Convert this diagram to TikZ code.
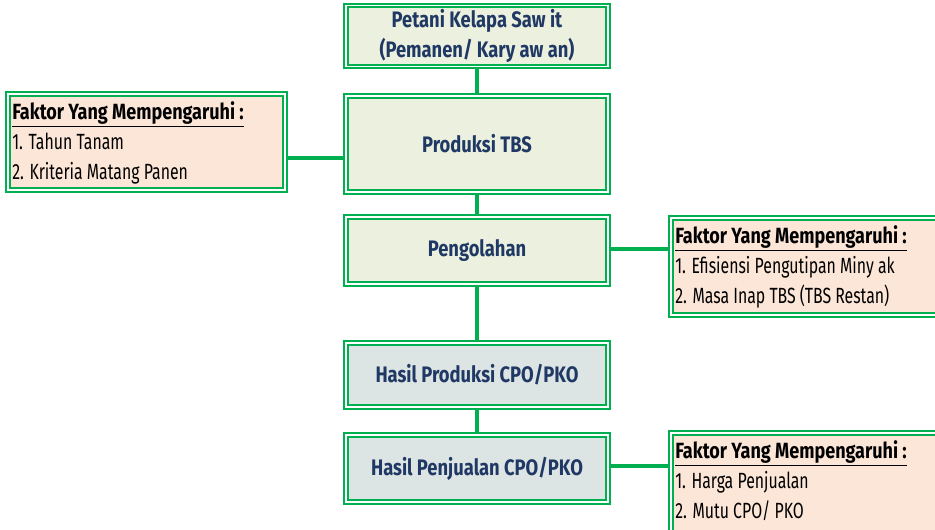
\documentclass[tikz,border=0pt]{standalone}
\usepackage{fontspec}
\usetikzlibrary{backgrounds}
\newfontfamily\agency[FakeStretch=0.72]{Fira Sans}
\newfontfamily\agencyb[FakeStretch=0.82]{Fira Sans Bold}
\newfontfamily\agencym[FakeStretch=0.82]{Fira Sans Bold}
\definecolor{grn}{HTML}{00B050}
\definecolor{navy}{HTML}{1F3864}
\definecolor{mainfill}{HTML}{EBF1DE}
\definecolor{lowfill}{HTML}{DDE4E4}
\definecolor{facfill}{HTML}{FCE6D8}
\tikzset{
  dbl/.style={draw=grn, line width=1.5pt, double=white, double distance=1.1pt},
  mainbox/.style={dbl, fill=mainfill, minimum width=262*0.75pt, text=navy, align=center, font=\agencym\fontsize{16.8}{22.5}\selectfont, inner sep=0pt},
  facbox/.style={dbl, fill=facfill, inner sep=0pt},
  factext/.style={anchor=north west, align=left, inner sep=0pt, font=\agency\fontsize{16.5}{22.5}\selectfont, text=black},
  conn/.style={draw=grn, line width=3pt}
}
\begin{document}
\begin{tikzpicture}[x=0.75pt,y=-0.75pt]
\useasboundingbox (0,0) rectangle (935,529);
\node[mainbox, minimum height=61*0.75pt] (b1) at (477,36) {Petani Kelapa Saw it\\(Pemanen/ Kary aw an)};
\node[mainbox, minimum height=96*0.75pt] (b2) at (477,144) {Produksi TBS};
\node[mainbox, minimum height=67*0.75pt] (b3) at (477,250.5) {Pengolahan};
\node[mainbox, fill=lowfill, minimum height=64*0.75pt] (b4) at (477,375) {Hasil Produksi CPO/PKO};
\node[mainbox, fill=lowfill, minimum height=67*0.75pt] (b5) at (477,468.5) {Hasil Penjualan CPO/PKO};
\node[facbox, minimum width=277*0.75pt, minimum height=96*0.75pt] (f1) at (146.5,142) {};
\node[facbox, minimum width=274*0.75pt, minimum height=97*0.75pt] (f2) at (808,266.5) {};
\node[facbox, minimum width=274*0.75pt, minimum height=102*0.75pt] (f3) at (808,484) {};
\node[factext] (t1) at ([shift={(5*0.75pt,-8*0.75pt)}]f1.north west) {{\agencyb\underline{Faktor Yang Mempengaruhi :}}\\1. Tahun Tanam\\2. Kriteria Matang Panen};
\node[factext] (t2) at ([shift={(5*0.75pt,-8*0.75pt)}]f2.north west) {{\agencyb\underline{Faktor Yang Mempengaruhi :}}\\1. Efisiensi Pengutipan Miny ak\\2. Masa Inap TBS (TBS Restan)};
\node[factext] (t3) at ([shift={(5*0.75pt,-8*0.75pt)}]f3.north west) {{\agencyb\underline{Faktor Yang Mempengaruhi :}}\\1. Harga Penjualan\\2. Mutu CPO/ PKO};
\begin{scope}[on background layer]
\draw[conn] (b1.south) -- (b2.north);
\draw[conn] (b2.south) -- (b3.north);
\draw[conn] (b3.south) -- (b4.north);
\draw[conn] (b4.south) -- (b5.north);
\draw[conn] ([yshift=-16*0.75pt]f1.east) -- ([yshift=-16*0.75pt]f1.east -| b2.west);
\draw[conn] ([yshift=2*0.75pt]b3.east) -- ([yshift=2*0.75pt]b3.east -| f2.west);
\draw[conn] ([yshift=3*0.75pt]b5.east) -- ([yshift=3*0.75pt]b5.east -| f3.west);
\end{scope}
\end{tikzpicture}
\end{document}
